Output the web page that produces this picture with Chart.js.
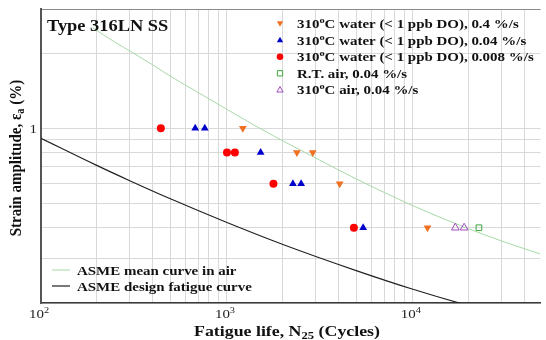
<!DOCTYPE html>
<html>
<head>
<meta charset="utf-8">
<script src="https://cdn.jsdelivr.net/npm/chart.js@4/dist/chart.umd.min.js"></script>
<style>
  html, body { margin: 0; padding: 0; background: #ffffff; }
  canvas { display: block; }
</style>
</head>
<body>
<canvas id="c" width="546" height="340"></canvas>
<script>
// ---------------- data ----------------
const xGrid = [100,200,300,400,500,600,700,800,900,1000,2000,3000,4000,5000,6000,7000,8000,9000,10000,20000,30000,40000];
const yGrid = [0.2,0.3,0.4,0.5,0.6,0.7,0.8,0.9,1,2,3];
const xTickLabels = [{v:100, base:'10', exp:'2'}, {v:1000, base:'10', exp:'3'}, {v:10000, base:'10', exp:'4'}];
const yTickLabels = [{v:1, text:'1'}];

// ASME mean curve in air
const meanN   = [190, 250, 300, 400, 500, 700, 1000, 1500, 2000, 3000, 5000, 7000, 10000, 15000, 20000, 30000, 48530];
const meanEps = [2.52, 2.21, 2.04, 1.79, 1.61, 1.39, 1.19, 1.00, 0.89, 0.76, 0.625, 0.554, 0.49, 0.431, 0.396, 0.354, 0.314];

// ASME design fatigue curve
const designN   = [100, 198, 300, 500, 1000, 2000, 5000, 10000, 20000, 30000];
const designEps = [0.912, 0.712, 0.617, 0.521, 0.420, 0.343, 0.269, 0.227, 0.195, 0.180];

// 310 C water, 0.4 %/s
const w04N   = [1217, 2378, 2893, 4038, 11980];
const w04Eps = [1.0, 0.8, 0.8, 0.6, 0.4];
// 310 C water, 0.04 %/s
const w004N   = [675, 760, 1517, 2263, 2505, 5400];
const w004Eps = [1.0, 1.0, 0.8, 0.6, 0.6, 0.4];
// 310 C water, 0.008 %/s
const w0008N   = [441, 1000, 1103, 1778, 4814];
const w0008Eps = [1.0, 0.8, 0.8, 0.6, 0.4];
// R.T. air, 0.04 %/s
const rtN   = [22640];
const rtEps = [0.4];
// 310 C air, 0.04 %/s
const airN   = [16900, 18850];
const airEps = [0.4, 0.4];

const legendTop = [
  {pre:'310', sup:'o', post:'C water (< 1 ppb DO), 0.4 %/s', marker:'tridown', color:'#f07022'},
  {pre:'310', sup:'o', post:'C water (< 1 ppb DO), 0.04 %/s', marker:'tri', color:'#0000cc'},
  {pre:'310', sup:'o', post:'C water (< 1 ppb DO), 0.008 %/s', marker:'circle', color:'#ff0000'},
  {pre:'R.T. air, 0.04 %/s', sup:'', post:'', marker:'square', color:'#3da83d'},
  {pre:'310', sup:'o', post:'C air, 0.04 %/s', marker:'opentri', color:'#a04cc0'}
];
const legendBottom = [
  {text:'ASME mean curve in air', color:'#a8d8a8', width:1},
  {text:'ASME design fatigue curve', color:'#222222', width:1.2}
];

const pts = (xs, ys) => xs.map((x, i) => ({x: x, y: ys[i]}));

// ---------------- text plugin ----------------
const SERIF = '"Liberation Serif", "DejaVu Serif", serif';
const SX = 1.15; // the reference lettering is stretched horizontally

function drawSegments(ctx, segs, x, y, align, stretch) {
  const k = stretch || 1;
  let total = 0;
  segs.forEach(s => { ctx.font = (s.bold ? 'bold ' : '') + s.size + 'px ' + SERIF; s.w = ctx.measureText(s.t).width * k; total += s.w; });
  let cx = align === 'center' ? x - total / 2 : (align === 'right' ? x - total : x);
  ctx.textAlign = 'left';
  ctx.textBaseline = 'alphabetic';
  segs.forEach(s => {
    ctx.font = (s.bold ? 'bold ' : '') + s.size + 'px ' + SERIF;
    ctx.save();
    ctx.translate(cx, y + (s.dy || 0));
    ctx.scale(k, 1);
    ctx.fillText(s.t, 0, 0);
    ctx.restore();
    cx += s.w;
  });
  return total;
}

function drawMarker(ctx, type, color, x, y, r) {
  ctx.save();
  ctx.lineWidth = 1;
  ctx.beginPath();
  if (type === 'circle') {
    ctx.arc(x, y, r, 0, Math.PI * 2);
    ctx.fillStyle = color; ctx.fill();
  } else if (type === 'tri' || type === 'opentri') {
    ctx.moveTo(x, y - r); ctx.lineTo(x + r * 0.95, y + r * 0.65); ctx.lineTo(x - r * 0.95, y + r * 0.65); ctx.closePath();
    if (type === 'tri') { ctx.fillStyle = color; ctx.fill(); } else { ctx.strokeStyle = color; ctx.stroke(); }
  } else if (type === 'tridown') {
    ctx.moveTo(x, y + r); ctx.lineTo(x + r * 0.95, y - r * 0.65); ctx.lineTo(x - r * 0.95, y - r * 0.65); ctx.closePath();
    ctx.fillStyle = color; ctx.fill();
  } else if (type === 'square') {
    ctx.rect(x - r * 0.8, y - r * 0.8, r * 1.6, r * 1.6);
    ctx.strokeStyle = color; ctx.stroke();
  }
  ctx.restore();
}

const textPlugin = {
  id: 'texts',
  afterDraw(chart) {
    const ctx = chart.ctx;
    const xs = chart.scales.x, ys = chart.scales.y;
    ctx.save();
    ctx.fillStyle = '#111';

    // title inside plot
    drawSegments(ctx, [{t:'Type 316LN SS', size:16, bold:true}], 47, 31, 'left', SX);

    // top-right legend
    const ly0 = 28, ldy = 16.6;
    legendTop.forEach((it, i) => {
      const y = ly0 + i * ldy;
      drawMarker(ctx, it.marker, it.color, 280, y - 4.5, 3.3);
      ctx.fillStyle = '#111';
      const segs = [{t:it.pre, size:13, bold:true}];
      if (it.sup) segs.push({t:it.sup, size:9, bold:true, dy:-5});
      if (it.post) segs.push({t:it.post, size:13, bold:true});
      drawSegments(ctx, segs, 297, y, 'left', SX);
    });

    // bottom-left legend
    legendBottom.forEach((it, i) => {
      const y = 270 + i * 16;
      ctx.beginPath();
      ctx.strokeStyle = it.color; ctx.lineWidth = it.width;
      ctx.moveTo(52, y); ctx.lineTo(70, y); ctx.stroke();
      ctx.fillStyle = '#111';
      drawSegments(ctx, [{t:it.text, size:13, bold:true}], 77, y + 5, 'left', SX);
    });

    // x tick labels
    ctx.fillStyle = '#222';
    xTickLabels.forEach(t => {
      const px = xs.getPixelForValue(t.v);
      drawSegments(ctx, [{t:t.base, size:13, bold:false}, {t:t.exp, size:9, bold:false, dy:-5}], px - 2, 318, 'center', SX);
    });
    // y tick labels
    yTickLabels.forEach(t => {
      const py = ys.getPixelForValue(t.v);
      drawSegments(ctx, [{t:t.text, size:13, bold:false}], 37, py + 4.5, 'right', SX);
    });

    // x axis title
    ctx.fillStyle = '#111';
    drawSegments(ctx, [
      {t:'Fatigue life, N', size:15.5, bold:true},
      {t:'25', size:11, bold:true, dy:3},
      {t:' (Cycles)', size:15.5, bold:true}
    ], 287, 336, 'center', SX);

    // y axis title (rotated; the horizontal stretch becomes a stretch of glyph height)
    ctx.save();
    ctx.translate(21, 158);
    ctx.rotate(-Math.PI / 2);
    ctx.scale(1, SX);
    drawSegments(ctx, [
      {t:'Strain amplitude, \u03b5', size:15, bold:true},
      {t:'a', size:10.5, bold:true, dy:3},
      {t:' (%)', size:15, bold:true}
    ], 0, 0, 'center', 1);
    ctx.restore();

    ctx.restore();
  }
};

// ---------------- chart ----------------
new Chart(document.getElementById('c'), {
  type: 'scatter',
  data: {
    datasets: [
      {label:'ASME mean curve in air', data: pts(meanN, meanEps), showLine:true, borderColor:'#a8d8a8', borderWidth:1, pointRadius:0, fill:false, cubicInterpolationMode:'monotone', order:5},
      {label:'ASME design fatigue curve', data: pts(designN, designEps), showLine:true, borderColor:'#222222', borderWidth:1.2, pointRadius:0, fill:false, cubicInterpolationMode:'monotone', order:5},
      {label:'310C water 0.4', data: pts(w04N, w04Eps), pointStyle:'triangle', rotation:180, pointRadius:4.5, backgroundColor:'#f07022', borderColor:'#f07022', borderWidth:0, order:1},
      {label:'310C water 0.04', data: pts(w004N, w004Eps), pointStyle:'triangle', pointRadius:4.5, backgroundColor:'#0000cc', borderColor:'#0000cc', borderWidth:0, order:1},
      {label:'310C water 0.008', data: pts(w0008N, w0008Eps), pointStyle:'circle', pointRadius:4, backgroundColor:'#ff0000', borderColor:'#ff0000', borderWidth:0, order:1},
      {label:'R.T. air', data: pts(rtN, rtEps), pointStyle:'rect', pointRadius:4, backgroundColor:'rgba(255,255,255,0)', borderColor:'#3da83d', borderWidth:1, order:1},
      {label:'310C air', data: pts(airN, airEps), pointStyle:'triangle', pointRadius:4.5, backgroundColor:'rgba(255,255,255,0)', borderColor:'#a04cc0', borderWidth:1, order:1}
    ]
  },
  options: {
    responsive: false,
    devicePixelRatio: 1,
    animation: false,
    layout: { padding: { top: 9, left: 0, right: 0, bottom: 0 } },
    plugins: { legend: { display: false }, tooltip: { enabled: false } },
    scales: {
      x: {
        type: 'logarithmic', min: 100, max: 48530, position: 'bottom',
        afterBuildTicks: s => { s.ticks = xGrid.map(v => ({value: v})); },
        afterFit: s => { s.height = 37; },
        ticks: { display: false },
        grid: { color: '#d9d9d9', lineWidth: 1, drawTicks: false },
        border: { display: true, color: '#3a3a3a', width: 1.5 }
      },
      y: {
        type: 'logarithmic', min: 0.2, max: 3, position: 'left',
        afterBuildTicks: s => { s.ticks = yGrid.map(v => ({value: v})); },
        afterFit: s => { s.width = 41; },
        ticks: { display: false },
        grid: { color: ctx => (ctx.tick && ctx.tick.value === 3) ? '#8a8a8a' : '#d9d9d9', lineWidth: 1, drawTicks: false },
        border: { display: true, color: '#555555', width: 2 }
      }
    }
  },
  plugins: [textPlugin]
});
</script>
</body>
</html>
